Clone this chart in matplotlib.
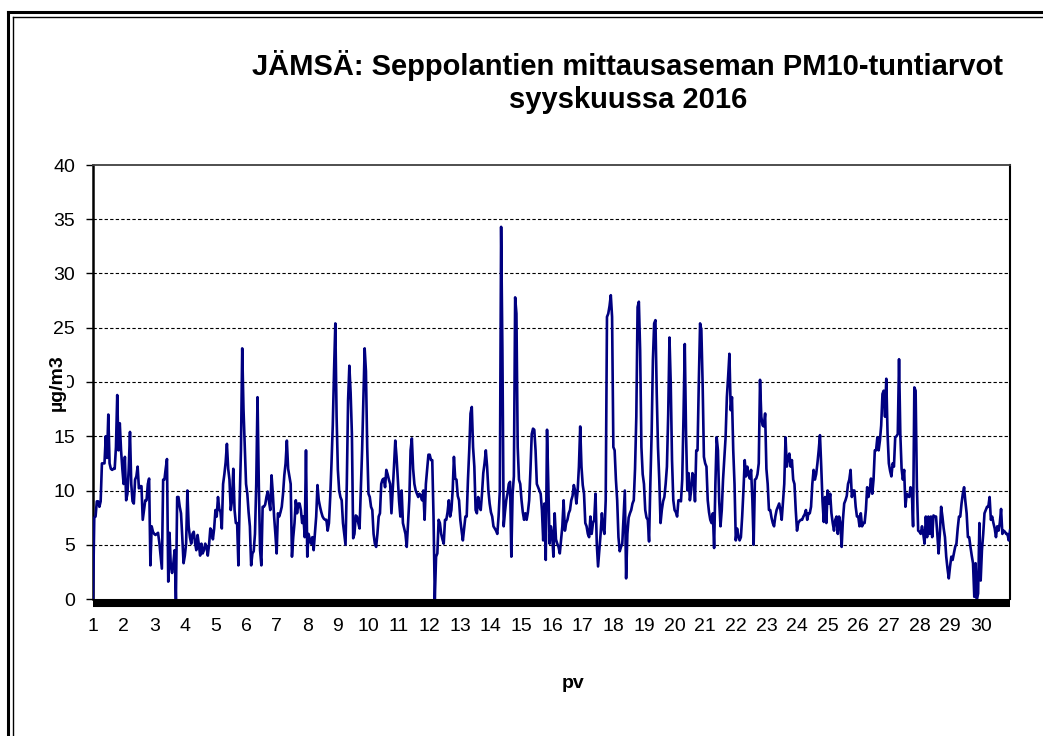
import numpy as np
import matplotlib
matplotlib.use("Agg")
import matplotlib.pyplot as plt
from matplotlib.lines import Line2D

plt.rcParams['font.family'] = ['Liberation Sans', 'DejaVu Sans']

# PM10 tuntiarvot (µg/m3), 24 arvoa / päivä, syyskuu 2016
day01 = [0, 7.5, 7.6, 9, 9, 8.5, 9, 12.5, 12.5, 12.5, 15, 13, 17, 12.5, 12, 11.9, 12, 12, 14, 18.8, 13.7, 16.2, 13.7, 12]
day02 = [10.6, 13.1, 9.1, 9.7, 12, 15.4, 10.6, 9, 8.8, 11, 11.3, 12.2, 10.2, 10.4, 10.4, 7.3, 8.2, 9.1, 9.1, 10.6, 11.1, 3.1, 6.7, 6.2]
day03 = [6, 5.9, 6, 6.1, 5.2, 4, 2.8, 11, 11, 12, 12.9, 1.6, 6.1, 3, 2.4, 3.3, 4.5, 0, 9.4, 9.4, 8.5, 7.9, 5.7, 3.3]
day04 = [4, 5.1, 10, 6.7, 5.7, 5.1, 6, 6.2, 5.2, 4.5, 5.9, 5, 4, 5.1, 4.2, 4.5, 5.1, 4.8, 4, 5, 6.5, 6.3, 5.5, 6.5]
day05 = [8.2, 7.6, 9.4, 8.3, 8, 6.5, 10.6, 11.5, 12.6, 14.3, 12, 11, 8.2, 9.1, 12, 8.2, 7, 7, 3.1, 9.1, 13.7, 23.1, 17.5, 14]
day06 = [10.6, 9.7, 8, 6.7, 3.1, 4.2, 4.4, 6, 10.6, 18.6, 10.6, 4.5, 3.1, 8.5, 8.5, 8.7, 9.4, 9.9, 9, 8.2, 11.4, 9.7, 7.6, 6]
day07 = [4.2, 7.9, 7.6, 8, 8.5, 9.7, 11.4, 12.5, 14.6, 12, 11.3, 10.6, 3.9, 5.7, 7, 9.1, 7.9, 8.8, 8.8, 8.2, 7, 7.6, 5.7, 13.7]
day08 = [3.9, 6, 5.5, 5.1, 5.7, 4.5, 6, 7.6, 10.5, 9.1, 8.5, 8, 7.6, 7.4, 7.3, 7.3, 6.3, 7, 9.4, 12.5, 16, 21, 25.4, 16.8]
day09 = [11.9, 10, 9.4, 9.1, 7, 6, 5, 10.6, 18.3, 21.5, 19, 15.2, 5.6, 6, 7.7, 7.6, 7, 6.5, 10, 13.7, 18.6, 23.1, 21, 14]
day10 = [9.7, 9.4, 8.5, 8.2, 6, 5.1, 4.8, 6, 7.6, 7.9, 10.6, 11, 11.1, 10.3, 11.9, 11.5, 11, 10.6, 7.9, 10, 12.2, 14.6, 13.1, 11]
day11 = [9, 7.6, 10, 7, 6.5, 6, 4.8, 7, 9.1, 13.7, 14.8, 12, 10.6, 10, 9.7, 9.4, 9.7, 9.5, 9.1, 10, 7.3, 10.6, 11.9, 13.3]
day12 = [13.3, 12.8, 12.8, 7.6, 0, 3.9, 4.2, 7.3, 7, 6, 5.5, 5.1, 7.3, 7.3, 8, 9.1, 7.6, 8.2, 10, 13.1, 11.1, 11, 9.5, 9.1]
day13 = [7.3, 6.3, 5.4, 6.5, 7.6, 7.6, 11, 13.7, 17.1, 17.7, 14, 12.2, 8.2, 7.9, 9.4, 8.5, 8.2, 9.7, 11.6, 12.5, 13.7, 12.2, 10, 8.8]
day14 = [8, 7.6, 6.7, 6.5, 6.3, 6, 7.6, 10, 34.3, 22.9, 6.7, 8, 9.1, 9.7, 10.6, 10.8, 3.9, 9.7, 11.3, 27.8, 26.3, 14, 11, 10.6]
day15 = [9.1, 8, 7.3, 7.9, 7.3, 8, 9.1, 11.9, 15.2, 15.7, 15.6, 13.7, 10.6, 10.3, 10, 9.7, 8.2, 5.4, 8.8, 3.6, 15.6, 10.6, 5.1, 6.7]
day16 = [6, 3.9, 7.9, 5.5, 5.1, 4.8, 4.2, 5.5, 6.7, 9.1, 6.3, 7, 7.3, 7.9, 8.2, 9.1, 9.5, 10.5, 10, 8.8, 10, 12.2, 15.9, 12.2]
day17 = [10.5, 9.7, 7, 6.7, 6, 5.7, 7.6, 6, 7, 7.3, 9.7, 5.1, 3, 4.5, 6, 7.9, 6.5, 6, 9.1, 26, 26.3, 27, 28, 26]
day18 = [14, 13.7, 11, 9.1, 5.7, 4.4, 4.8, 5.1, 7.6, 10, 1.9, 6, 7.5, 7.9, 8.2, 8.8, 9.1, 12, 16.8, 26.9, 27.4, 22.9, 14, 11.5]
day19 = [10.6, 8.2, 7.5, 7.3, 5.3, 10.6, 15.2, 22, 25.4, 25.7, 19, 14, 11, 7, 8.2, 9, 9.4, 10.6, 12.2, 17, 24.1, 19.8, 12.8, 9.1]
day20 = [8.2, 8, 7.6, 9.1, 9.1, 9, 11, 16.8, 23.5, 15.2, 10, 11.6, 9.1, 10, 11.6, 11.3, 9, 13.7, 13.7, 20, 25.4, 24.8, 19.8, 13.1]
day21 = [12.5, 12.2, 9.1, 8, 7.3, 7, 7.9, 4.7, 10.6, 14.9, 13.7, 9, 6.7, 8.2, 11, 13, 14.9, 18.6, 20.5, 22.6, 17.4, 18.6, 13.7, 10.6]
day22 = [5.4, 6.5, 5.8, 5.4, 5.7, 7.6, 10, 12.8, 11.3, 12.2, 11.5, 11.1, 11.9, 9.1, 5, 11, 11.1, 11.5, 12.5, 20.2, 16.8, 16, 15.9, 17.1]
day23 = [12, 10.6, 8.2, 8.2, 7.5, 7, 6.7, 7.6, 8.2, 8.5, 8.8, 8.2, 7.3, 9, 10.6, 14.9, 12.2, 13, 13.4, 12.2, 12.8, 11, 10.6, 8.2]
day24 = [6.3, 7, 7.2, 7.3, 7.3, 7.6, 7.8, 8.2, 7.3, 7.9, 7.9, 8.5, 10.6, 11.9, 11, 11.5, 12.5, 13.7, 15.1, 12.2, 9, 7.1, 9.4, 7]
day25 = [10, 8.8, 9.7, 7.9, 7, 6.3, 7.3, 7.6, 6, 7.6, 7, 4.8, 7.3, 8.8, 9.1, 9.5, 10.6, 11, 11.9, 9.4, 10, 10, 8.5, 7.6]
day26 = [7.6, 6.7, 7.9, 6.7, 7, 7, 8.2, 10.3, 9.4, 10, 11.1, 9.7, 11, 13.7, 13.7, 14.9, 13.7, 14.6, 16, 18.9, 19.2, 16.8, 20.3, 15.2]
day27 = [12.5, 11.8, 11.3, 12.5, 12.2, 14.9, 15, 15.2, 22.1, 15.2, 12, 11, 11.9, 8.5, 9.7, 9.5, 9.4, 10.3, 10, 6.7, 19.5, 19.2, 10.3, 6.3]
day28 = [6.2, 6, 6.7, 6, 5.1, 7.6, 5.7, 7.6, 6, 7.6, 5.7, 7.7, 7.6, 7.6, 6, 4.2, 6, 8.5, 7.6, 6.5, 5.7, 3.9, 2.8, 1.9]
day29 = [3, 3.9, 3.6, 4.2, 4.8, 5.1, 6.5, 7.6, 7.6, 8.8, 9.7, 10.3, 9, 7.9, 5.7, 5.7, 4.8, 4, 3.3, 0.2, 3.3, 0, 0.5, 7]
day30 = [1.7, 4.5, 6, 7.9, 8.2, 8.5, 8.5, 9.4, 7.3, 7.6, 7, 6.5, 5.7, 6.7, 6.3, 7, 8.3, 6, 6.3, 6.2, 6, 6, 5.4, 6.3]

days = [day01, day02, day03, day04, day05, day06, day07, day08, day09, day10,
        day11, day12, day13, day14, day15, day16, day17, day18, day19, day20,
        day21, day22, day23, day24, day25, day26, day27, day28, day29, day30]
day_labels = [str(d) for d in range(1, 31)]

pm10 = np.concatenate(days)
hours = np.arange(len(pm10))

W, H = 1043, 736
fig = plt.figure(figsize=(W / 100, H / 100), dpi=100)
ax = fig.add_axes([93 / W, 1 - 599 / H, 917 / W, 434 / H])

ax.plot(hours, pm10, color='#000080', lw=1.9, zorder=3)

ax.set_xlim(0, len(pm10) - 1)
ax.set_ylim(0, 40)
ax.set_yticks(np.arange(0, 41, 5))
ax.set_xticks(np.arange(30) * 24)
ax.set_xticklabels(day_labels)

ax.yaxis.grid(True, linestyle=(0, (3, 2)), color='black', linewidth=0.8)
gl = ax.get_ygridlines()
gl[0].set_visible(False)
gl[-1].set_visible(False)
ax.set_axisbelow(True)

ax.tick_params(axis='y', direction='out', length=5, width=1, pad=8, labelsize=14)
ax.tick_params(axis='x', length=0, pad=11, labelsize=14)

ax.spines['bottom'].set_linewidth(5.8)
ax.spines['bottom'].set_position(('outward', 3))
ax.spines['bottom'].set_capstyle('butt')
ax.spines['left'].set_linewidth(1.8)
ax.spines['top'].set_color('#404040')
ax.spines['top'].set_linewidth(1.3)
ax.spines['right'].set_linewidth(1.5)

fig.text(628 / W, 1 - 82 / H, 'JÄMSÄ: Seppolantien mittausaseman PM10-tuntiarvot\nsyyskuussa 2016',
         ha='center', va='center', fontsize=21, fontweight='bold', linespacing=1.25)
fig.text(573 / W, 1 - 683 / H, 'pv', ha='center', va='center', fontsize=14, fontweight='bold')
fig.text(57 / W, 1 - 383 / H, 'µg/m3', ha='center', va='center', rotation=90,
         fontsize=14, fontweight='bold',
         bbox=dict(facecolor='white', edgecolor='none', pad=1))

# kehys
fig.add_artist(Line2D([8 / W, 8 / W], [0, 1 - 12 / H], color='black', lw=2.2, transform=fig.transFigure))
fig.add_artist(Line2D([8 / W, 1], [1 - 12 / H, 1 - 12 / H], color='black', lw=2.2, transform=fig.transFigure))
fig.add_artist(Line2D([13 / W, 13 / W], [0, 1 - 17 / H], color='black', lw=1, transform=fig.transFigure))
fig.add_artist(Line2D([13 / W, 1], [1 - 17 / H, 1 - 17 / H], color='black', lw=1, transform=fig.transFigure))

fig.savefig('out.png', dpi=100)
